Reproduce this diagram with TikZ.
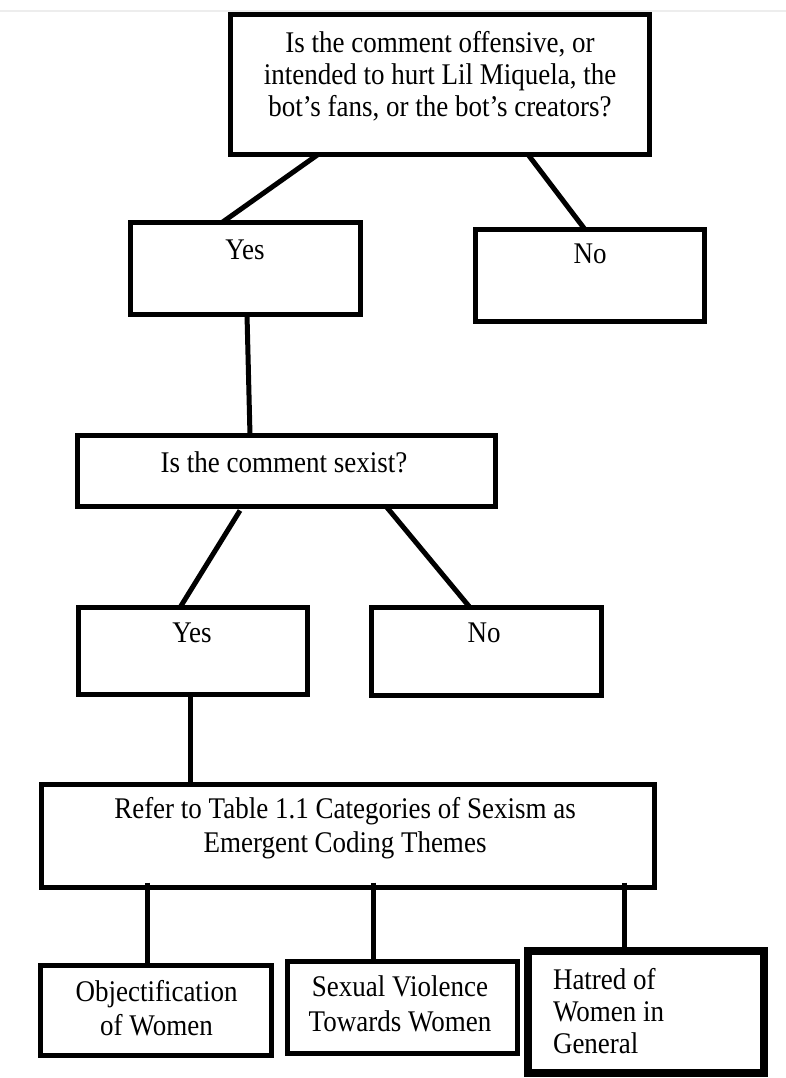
\documentclass[tikz,border=0pt]{standalone}
\usepackage{fontspec}
\setmainfont{Liberation Serif}[FakeStretch=0.9]
\usetikzlibrary{calc}
\tikzset{
  box/.style={draw=black, line width=5pt, rectangle, inner sep=0pt, outer sep=0pt, fill=white},
  thickbox/.style={box, line width=8pt},
  conn/.style={draw=black, line width=5pt, line cap=butt},
  txt/.style={font=\fontsize{30}{32}\selectfont, inner sep=0pt, outer sep=0pt, align=center, anchor=base, text=black},
  txtl/.style={txt, align=left, anchor=base west},
}
\begin{document}
\begin{tikzpicture}[x=1pt,y=-1pt]
\fill[white] (0,0) rectangle (786,1078);
\useasboundingbox (0,0) rectangle (786,1078);
\draw[black!7, line width=1.2pt] (0,11) -- (786,11);

% boxes
\node[box, minimum width=419pt, minimum height=140pt] (top) at (440,84.5) {};
\node[box, minimum width=230pt, minimum height=92pt] (yes1) at (245.5,268.5) {};
\node[box, minimum width=229pt, minimum height=92pt] (no1) at (590,275.5) {};
\node[box, minimum width=418pt, minimum height=71pt] (sexist) at (286.5,471) {};
\node[box, minimum width=229pt, minimum height=87pt] (yes2) at (193,651) {};
\node[box, minimum width=230pt, minimum height=88pt] (no2) at (486.5,651.5) {};
\node[box, minimum width=613pt, minimum height=103pt] (refer) at (348,836) {};
\node[box, minimum width=231pt, minimum height=90pt] (obj) at (156,1010.5) {};
\node[box, minimum width=230pt, minimum height=92pt] (sv) at (402.5,1007.5) {};
\node[thickbox, minimum width=236pt, minimum height=122pt] (hat) at (646,1012) {};

% texts (anchor base = baseline of the last line)
\node[txt] (ttop) at (440,117) {Is the comment offensive, or\\intended to hurt Lil Miquela, the\\bot’s fans, or the bot’s creators?};
\node[txt] (tyes1) at (245,259) {Yes};
\node[txt] (tno1) at (590,263) {No};
\node[txt] (tsexist) at (284,472) {Is the comment sexist?};
\node[txt] (tyes2) at (192,642) {Yes};
\node[txt] (tno2) at (484,642) {No};
\node[txt, font=\fontsize{30}{34}\selectfont] (trefer) at (345,852) {Refer to Table 1.1 Categories of Sexism as\\Emergent Coding Themes};
\node[txt, font=\fontsize{30}{34}\selectfont] (tobj) at (156.5,1035) {Objectification\\of Women};
\node[txt, font=\fontsize{30}{35}\selectfont] (tsv) at (400,1031) {Sexual Violence\\Towards Women};
\node[txtl] (that) at (553,1053) {Hatred of\\Women in\\General};

% connectors
\draw[conn] ([xshift=-122pt]top.south) -- ([xshift=-23.5pt]yes1.north);
\draw[conn] ([xshift=88pt]top.south) -- ([xshift=-5pt]no1.north);
\draw[conn] ([xshift=1.5pt]yes1.south) -- ([xshift=-36.5pt]sexist.north);
\draw[conn] ([xshift=-46.5pt,yshift=-4pt]sexist.south) -- ([xshift=-13pt]yes2.north);
\draw[conn] ([xshift=100.5pt,yshift=-1pt]sexist.south) -- ([xshift=-16.5pt]no2.north);
\draw[conn] ([xshift=-3pt]yes2.south) -- ([xshift=-158pt]refer.north);
\draw[conn] ([xshift=-201pt,yshift=5pt]refer.south) -- ([xshift=-9pt]obj.north);
\draw[conn] ([xshift=25pt,yshift=5pt]refer.south) -- ([xshift=-29.5pt]sv.north);
\draw[conn] ([xshift=276pt,yshift=5pt]refer.south) -- ([xshift=-22pt]hat.north);
\end{tikzpicture}
\end{document}
